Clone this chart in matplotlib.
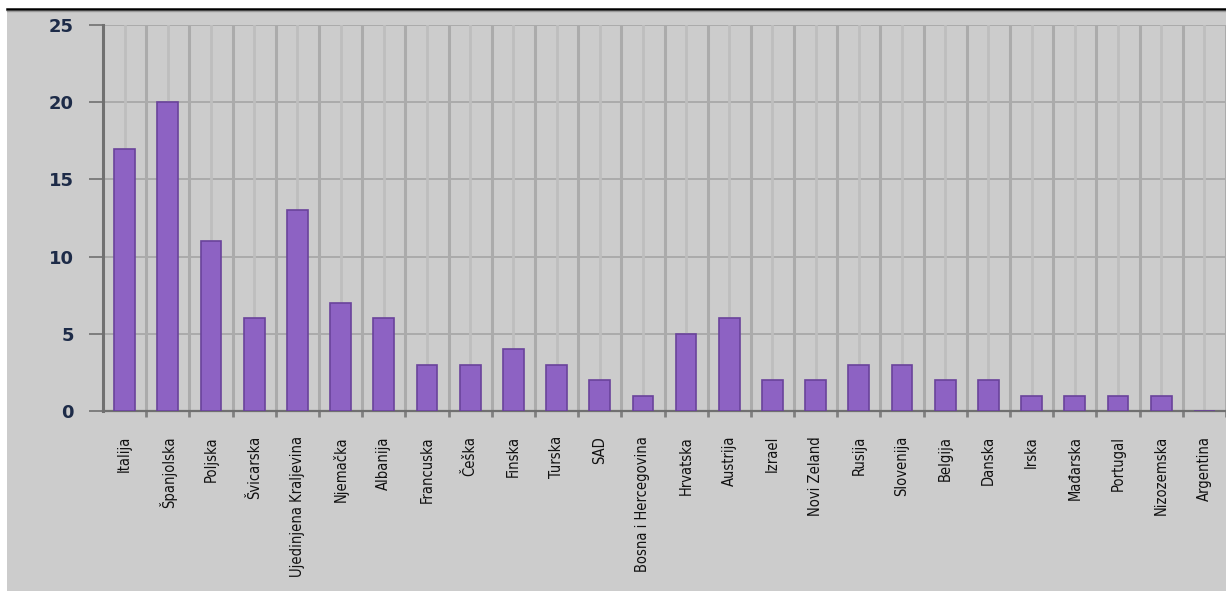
import matplotlib.pyplot as plt
import numpy as np
from matplotlib.patches import Rectangle
from matplotlib.lines import Line2D

# ── Data ──────────────────────────────────────────────────────────────────────

countries = [
    "Italija", "Španjolska", "Poljska", "Švicarska", "Ujedinjena Kraljevina",
    "Njemačka", "Albanija", "Francuska", "Češka", "Finska", "Turska", "SAD",
    "Bosna i Hercegovina", "Hrvatska", "Austrija", "Izrael", "Novi Zeland",
    "Rusija", "Slovenija", "Belgija", "Danska", "Irska", "Mađarska",
    "Portugal", "Nizozemska", "Argentina",
]
counts = [17, 20, 11, 6, 13, 7, 6, 3, 3, 4, 3, 2, 1, 5, 6, 2, 2, 3, 3, 2, 2,
          1, 1, 1, 1, 0]
y_ticks = [0, 5, 10, 15, 20, 25]

# ── Style ─────────────────────────────────────────────────────────────────────

BG        = "#cccccc"
BAR_FACE  = "#8d62c3"
BAR_EDGE  = "#6a439b"
GRID_MAJ  = "#ababab"
GRID_MIN  = "#bebebe"
SPINE     = "#707070"
YLAB_COL  = "#1d2b48"

fig = plt.figure(figsize=(12.26, 5.91), dpi=100, facecolor="white")

# gray panel with black top rule (behind the axes)
fig.patches.append(Rectangle((7 / 1226, 0), 1 - 7 / 1226, 1 - 9 / 591,
                             transform=fig.transFigure, facecolor=BG,
                             edgecolor="none", zorder=-10))
fig.lines.append(Line2D([7 / 1226, 1], [1 - 8.5 / 591, 1 - 8.5 / 591],
                        transform=fig.transFigure, color="black", lw=1.8,
                        zorder=-5))
fig.lines.append(Line2D([7 / 1226, 1], [1 - 10.5 / 591, 1 - 10.5 / 591],
                        transform=fig.transFigure, color="#9a9a9a", lw=1.0,
                        zorder=-5))

ax = fig.add_axes([103 / 1226, 1 - 411 / 591, 1 - 103 / 1226,
                   (411 - 25) / 591])
ax.set_facecolor(BG)

x = np.arange(len(countries))
ax.bar(x, counts, width=0.48, color=BAR_FACE, edgecolor=BAR_EDGE,
       linewidth=1.2, zorder=3)

ax.set_xlim(-0.5, len(countries) - 0.5)
ax.set_ylim(0, 25)

# grid: horizontal at 5s, vertical at category boundaries and centres
for yv in y_ticks[1:]:
    ax.axhline(yv, color=GRID_MAJ, lw=1.4, zorder=1)
for xv in np.arange(len(countries)) + 0.5:
    ax.axvline(xv, color=GRID_MAJ, lw=2.2, zorder=1)
for xv in x:
    ax.axvline(xv, color=GRID_MIN, lw=2.0, zorder=1)

for side in ["top", "right"]:
    ax.spines[side].set_visible(False)
ax.spines["left"].set_color(SPINE)
ax.spines["left"].set_linewidth(2.2)
ax.spines["bottom"].set_color(SPINE)
ax.spines["bottom"].set_linewidth(1.6)

ax.set_yticks(y_ticks)
ax.set_yticklabels([str(v) for v in y_ticks], fontsize=13, fontweight="bold",
                   color=YLAB_COL, family="DejaVu Sans")
ax.tick_params(axis="y", length=10, width=1.2, color=SPINE, pad=11)

ax.set_xticks(x)
ax.set_xticklabels(countries, rotation=90, ha="center", va="top",
                   fontsize=10.5, fontstretch="condensed",
                   family="DejaVu Sans", color="#111111")
ax.tick_params(axis="x", length=0, pad=18)
ax.set_xticks(np.arange(len(countries)) + 0.5, minor=True)
ax.tick_params(axis="x", which="minor", length=4, width=2, color="#808080")

fig.savefig("out.png", dpi=100, facecolor=fig.get_facecolor())
plt.close()
